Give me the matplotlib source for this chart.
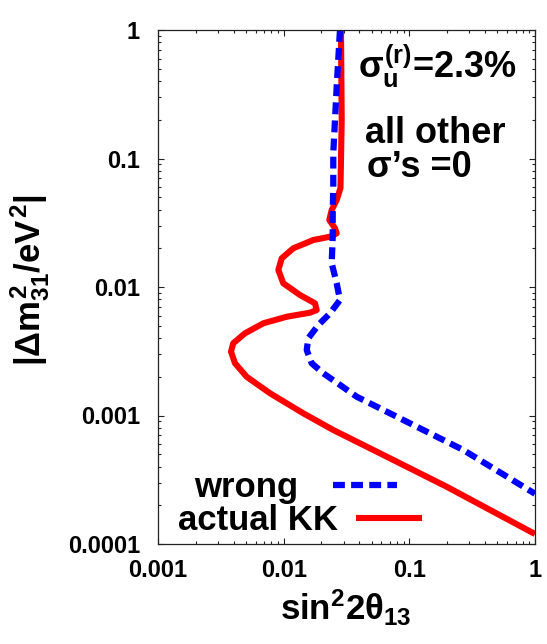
import matplotlib
matplotlib.use("Agg")
import matplotlib.pyplot as plt
from matplotlib.ticker import FixedLocator, FuncFormatter, LogLocator, NullFormatter

# ---------------- data ----------------
actual_x = [0.02858, 0.02896, 0.02832, 0.02642, 0.02411, 0.02307, 0.02561, 0.02642,
            0.02337, 0.01721, 0.01193, 0.00965, 0.00907, 0.00993, 0.01349,
            0.01775, 0.01831, 0.01620, 0.01057, 0.00689, 0.00492, 0.00397, 0.00381,
            0.00410, 0.00508, 0.00778, 0.01433, 0.02482, 0.05841, 0.1983, 1.0]
actual_y = [1.0, 0.1993, 0.05894, 0.04753, 0.03973, 0.03322, 0.02862, 0.02617,
            0.02462, 0.02321, 0.02001, 0.01672, 0.01356, 0.01069, 0.00866,
            0.00747, 0.00662, 0.00631, 0.00587, 0.00522, 0.00436, 0.00365, 0.00314,
            0.00255, 0.00200, 0.00149, 0.00104, 0.000771, 0.000508, 0.000279, 0.0001196]

wrong_x = [0.02806, 0.02642, 0.02482, 0.02482, 0.02456, 0.02456, 0.02411, 0.02642,
           0.02806, 0.02337, 0.01887, 0.01570, 0.01526, 0.01671, 0.02067, 0.02806,
           0.03813, 0.07932, 0.2688, 1.0]
wrong_y = [1.0, 0.3620, 0.1098, 0.05686, 0.03973, 0.02462, 0.01529, 0.01069,
           0.00792, 0.00624, 0.00506, 0.00399, 0.00323, 0.00255, 0.00213, 0.00173,
           0.00140, 0.000979, 0.000539, 0.000246]

x_ticks = [0.001, 0.01, 0.1, 1]
y_ticks = [0.0001, 0.001, 0.01, 0.1, 1]
label_wrong = "wrong"
label_actual = "actual KK"
note_sigma = r"$\sigma_{u}^{(r)}$=2.3%"
note_other1 = "all other"
note_other2 = "σ’s =0"
xlabel = r"$\mathrm{sin}^{2}2\theta_{13}$"
ylabel = r"$|\Delta m^{2}_{31}/eV^{2}|$"

# ---------------- style ----------------
plt.rcParams["font.family"] = ["Liberation Sans", "DejaVu Sans"]
plt.rcParams["font.weight"] = "bold"
plt.rcParams["mathtext.fontset"] = "custom"
plt.rcParams["mathtext.rm"] = "Liberation Sans:bold"
plt.rcParams["mathtext.it"] = "Liberation Sans:bold"
plt.rcParams["mathtext.bf"] = "Liberation Sans:bold"
plt.rcParams["mathtext.sf"] = "Liberation Sans:bold"

W, H = 547, 644
fig = plt.figure(figsize=(W / 100, H / 100), dpi=100)
L, R, T, B = 158, 535, 30, 544
ax = fig.add_axes([L / W, 1 - B / H, (R - L) / W, (B - T) / H])

ax.set_xscale("log")
ax.set_yscale("log")
ax.set_xlim(x_ticks[0], x_ticks[-1])
ax.set_ylim(y_ticks[0], y_ticks[-1])

red = "#ff0000"
blue = "#0000ff"
l_actual, = ax.plot(actual_x, actual_y, color=red, lw=4.4, solid_joinstyle="round",
                    solid_capstyle="butt", label=label_actual)
l_wrong, = ax.plot(wrong_x, wrong_y, color=blue, lw=4.5, dashes=(1.9, 1.0),
                   dash_capstyle="butt", label=label_wrong)

fmt = FuncFormatter(lambda v, p: "%g" % v)
ax.xaxis.set_major_locator(FixedLocator(x_ticks))
ax.yaxis.set_major_locator(FixedLocator(y_ticks))
ax.xaxis.set_major_formatter(fmt)
ax.yaxis.set_major_formatter(fmt)
ax.xaxis.set_minor_locator(LogLocator(base=10, subs=range(2, 10), numticks=20))
ax.yaxis.set_minor_locator(LogLocator(base=10, subs=range(2, 10), numticks=20))
ax.xaxis.set_minor_formatter(NullFormatter())
ax.yaxis.set_minor_formatter(NullFormatter())
ax.tick_params(which="both", direction="in", top=True, right=True, width=0.8, color="#222222")
ax.tick_params(which="major", length=4.0, labelsize=17)
ax.tick_params(which="minor", length=2.2)
ax.tick_params(axis="x", which="major", pad=11)
ax.tick_params(axis="y", which="major", pad=13)
for lab in ax.get_xticklabels() + ax.get_yticklabels():
    lab.set_fontweight("bold")
for s in ax.spines.values():
    s.set_linewidth(0.9)
    s.set_color("#222222")

ax.set_xlabel(xlabel, fontsize=25, va="center")
ax.xaxis.set_label_coords(0.4987, -0.1245)
ax.set_ylabel(ylabel, fontsize=25, va="center")
ax.yaxis.set_label_coords((30 - L) / (R - L), (B - 280) / (B - T))

# annotations
def axc(px, py):
    return ((px - L) / (R - L), (B - py) / (B - T))

ax.text(*axc(358, 78), note_sigma, transform=ax.transAxes, fontsize=26,
        ha="left", va="baseline", fontweight="bold")
ax.text(*axc(365, 143), note_other1, transform=ax.transAxes, fontsize=26,
        ha="left", va="baseline", fontweight="bold")
ax.text(*axc(367, 176.7), note_other2, transform=ax.transAxes, fontsize=26,
        ha="left", va="baseline", fontweight="bold")

# legends (text first, sample after)
leg1 = ax.legend([l_wrong], [label_wrong], loc="center right",
                 bbox_to_anchor=(397.3 / W, 1 - 488 / H), bbox_transform=fig.transFigure,
                 frameon=False, markerfirst=False, borderpad=0, borderaxespad=0,
                 handlelength=1.85, handletextpad=1.0,
                 prop={"size": 25, "weight": "bold"})
ax.add_artist(leg1)
leg2 = ax.legend([l_actual], [label_actual], loc="center right",
                 bbox_to_anchor=(421.7 / W, 1 - 521 / H), bbox_transform=fig.transFigure,
                 frameon=False, markerfirst=False, borderpad=0, borderaxespad=0,
                 handlelength=1.88, handletextpad=0.52,
                 prop={"size": 25, "weight": "bold"})

fig.savefig("out.png", dpi=100)
